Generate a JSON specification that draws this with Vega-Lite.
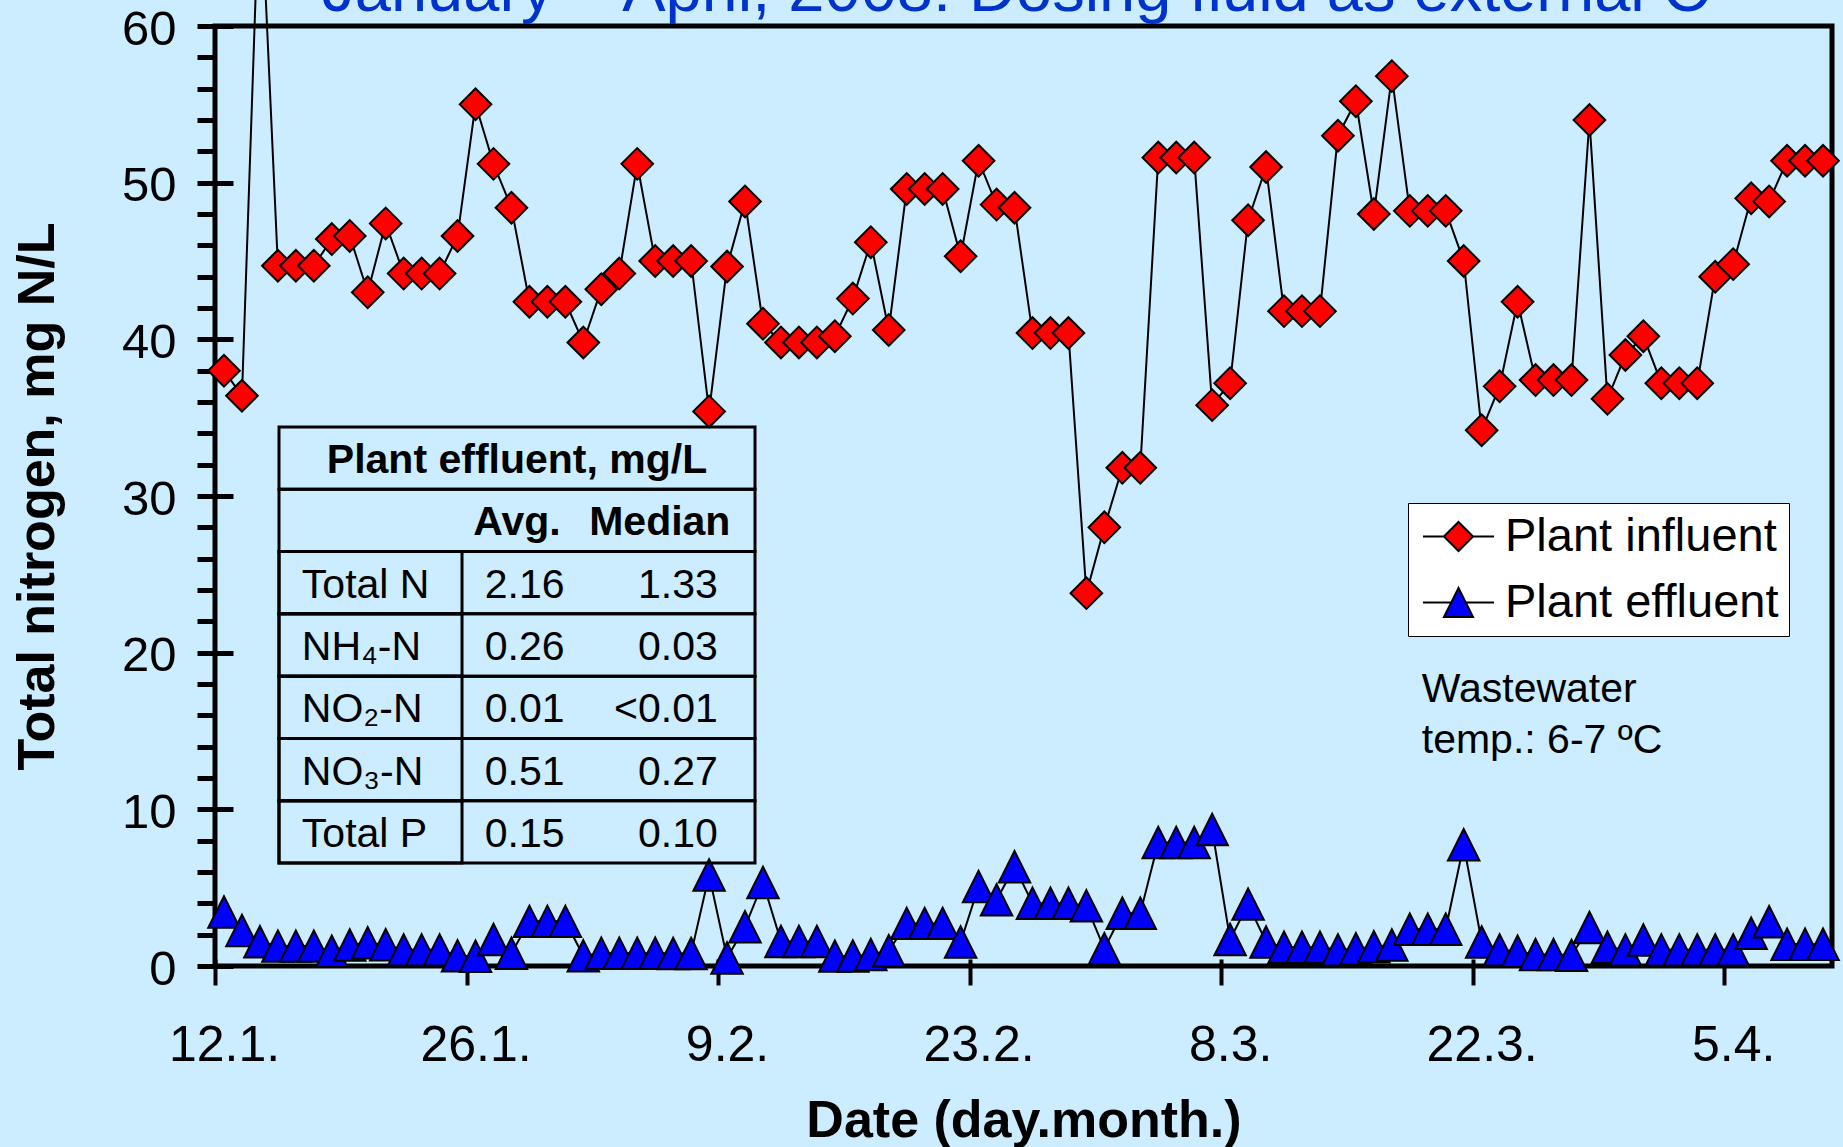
{
  "$schema": "https://vega.github.io/schema/vega-lite/v6.json",
  "width": 1617,
  "height": 940,
  "autosize": {"type": "none"},
  "padding": {"left": 215, "top": 26, "right": 11, "bottom": 181},
  "background": "#CCECFF",
  "datasets": {
    "tn": [
      {"date":"2008-01-12","inf":38.0,"eff":3.45},
      {"date":"2008-01-13","inf":36.4,"eff":2.27},
      {"date":"2008-01-14","inf":70.0,"eff":1.55},
      {"date":"2008-01-15","inf":44.7,"eff":1.27},
      {"date":"2008-01-16","inf":44.7,"eff":1.27},
      {"date":"2008-01-17","inf":44.7,"eff":1.27},
      {"date":"2008-01-18","inf":46.4,"eff":0.94},
      {"date":"2008-01-19","inf":46.6,"eff":1.34},
      {"date":"2008-01-20","inf":43.0,"eff":1.48},
      {"date":"2008-01-21","inf":47.4,"eff":1.36},
      {"date":"2008-01-22","inf":44.2,"eff":1.03},
      {"date":"2008-01-23","inf":44.2,"eff":1.03},
      {"date":"2008-01-24","inf":44.2,"eff":1.03},
      {"date":"2008-01-25","inf":46.6,"eff":0.65},
      {"date":"2008-01-26","inf":55.0,"eff":0.62},
      {"date":"2008-01-27","inf":51.2,"eff":1.69},
      {"date":"2008-01-28","inf":48.4,"eff":0.81},
      {"date":"2008-01-29","inf":42.4,"eff":2.85},
      {"date":"2008-01-30","inf":42.4,"eff":2.85},
      {"date":"2008-01-31","inf":42.4,"eff":2.85},
      {"date":"2008-02-01","inf":39.8,"eff":0.65},
      {"date":"2008-02-02","inf":43.2,"eff":0.82},
      {"date":"2008-02-03","inf":44.2,"eff":0.82},
      {"date":"2008-02-04","inf":51.2,"eff":0.82},
      {"date":"2008-02-05","inf":45.0,"eff":0.82},
      {"date":"2008-02-06","inf":45.0,"eff":0.8},
      {"date":"2008-02-07","inf":45.0,"eff":0.8},
      {"date":"2008-02-08","inf":35.4,"eff":5.81},
      {"date":"2008-02-09","inf":44.65,"eff":0.51},
      {"date":"2008-02-10","inf":48.8,"eff":2.5},
      {"date":"2008-02-11","inf":41.0,"eff":5.33},
      {"date":"2008-02-12","inf":39.8,"eff":1.57},
      {"date":"2008-02-13","inf":39.8,"eff":1.57},
      {"date":"2008-02-14","inf":39.8,"eff":1.57},
      {"date":"2008-02-15","inf":40.2,"eff":0.63},
      {"date":"2008-02-16","inf":42.6,"eff":0.64},
      {"date":"2008-02-17","inf":46.2,"eff":0.74},
      {"date":"2008-02-18","inf":40.6,"eff":0.97},
      {"date":"2008-02-19","inf":49.6,"eff":2.72},
      {"date":"2008-02-20","inf":49.6,"eff":2.72},
      {"date":"2008-02-21","inf":49.6,"eff":2.72},
      {"date":"2008-02-22","inf":45.3,"eff":1.53},
      {"date":"2008-02-23","inf":51.4,"eff":5.07},
      {"date":"2008-02-24","inf":48.6,"eff":4.22},
      {"date":"2008-02-25","inf":48.4,"eff":6.34},
      {"date":"2008-02-26","inf":40.4,"eff":4.01},
      {"date":"2008-02-27","inf":40.4,"eff":4.01},
      {"date":"2008-02-28","inf":40.4,"eff":4.01},
      {"date":"2008-02-29","inf":23.8,"eff":3.84},
      {"date":"2008-03-01","inf":28.0,"eff":1.1},
      {"date":"2008-03-02","inf":31.8,"eff":3.37},
      {"date":"2008-03-03","inf":31.8,"eff":3.37},
      {"date":"2008-03-04","inf":51.6,"eff":7.88},
      {"date":"2008-03-05","inf":51.6,"eff":7.88},
      {"date":"2008-03-06","inf":51.6,"eff":7.88},
      {"date":"2008-03-07","inf":35.8,"eff":8.71},
      {"date":"2008-03-08","inf":37.2,"eff":1.69},
      {"date":"2008-03-09","inf":47.6,"eff":3.95},
      {"date":"2008-03-10","inf":51.0,"eff":1.53},
      {"date":"2008-03-11","inf":41.8,"eff":1.2},
      {"date":"2008-03-12","inf":41.8,"eff":1.2},
      {"date":"2008-03-13","inf":41.8,"eff":1.2},
      {"date":"2008-03-14","inf":53.0,"eff":1.03},
      {"date":"2008-03-15","inf":55.2,"eff":1.1},
      {"date":"2008-03-16","inf":48.0,"eff":1.23},
      {"date":"2008-03-17","inf":56.8,"eff":1.34},
      {"date":"2008-03-18","inf":48.2,"eff":2.35},
      {"date":"2008-03-19","inf":48.2,"eff":2.35},
      {"date":"2008-03-20","inf":48.2,"eff":2.35},
      {"date":"2008-03-21","inf":45.0,"eff":7.74},
      {"date":"2008-03-22","inf":34.2,"eff":1.53},
      {"date":"2008-03-23","inf":37.0,"eff":1.03},
      {"date":"2008-03-24","inf":42.4,"eff":0.94},
      {"date":"2008-03-25","inf":37.4,"eff":0.73},
      {"date":"2008-03-26","inf":37.4,"eff":0.73},
      {"date":"2008-03-27","inf":37.4,"eff":0.68},
      {"date":"2008-03-28","inf":54.0,"eff":2.46},
      {"date":"2008-03-29","inf":36.2,"eff":1.2},
      {"date":"2008-03-30","inf":39.0,"eff":1.03},
      {"date":"2008-03-31","inf":40.2,"eff":1.66},
      {"date":"2008-04-01","inf":37.2,"eff":1.03},
      {"date":"2008-04-02","inf":37.2,"eff":1.03},
      {"date":"2008-04-03","inf":37.2,"eff":1.03},
      {"date":"2008-04-04","inf":44.0,"eff":1.03},
      {"date":"2008-04-05","inf":44.8,"eff":1.03},
      {"date":"2008-04-06","inf":49.0,"eff":2.09},
      {"date":"2008-04-07","inf":48.8,"eff":2.83},
      {"date":"2008-04-08","inf":51.4,"eff":1.39},
      {"date":"2008-04-09","inf":51.4,"eff":1.39},
      {"date":"2008-04-10","inf":51.4,"eff":1.39}
    ],
    "table": [
      {"kind":"title","row":"r0","label":"Plant effluent, mg/L","avg":"","median":""},
      {"kind":"head","row":"r1","label":"","avg":"Avg.","median":"Median"},
      {"kind":"body","row":"r2","label":"Total N","avg":"2.16","median":"1.33"},
      {"kind":"body","row":"r3","label":"NH₄-N","avg":"0.26","median":"0.03"},
      {"kind":"body","row":"r4","label":"NO₂-N","avg":"0.01","median":"<0.01"},
      {"kind":"body","row":"r5","label":"NO₃-N","avg":"0.51","median":"0.27"},
      {"kind":"body","row":"r6","label":"Total P","avg":"0.15","median":"0.10"}
    ]
  },
  "layer": [
    {
      "data": {"name": "tn"},
      "layer": [
        {
          "mark": {"type": "line", "color": "black", "strokeWidth": 2},
          "encoding": {
            "x": {
              "field": "date", "type": "temporal", "timeUnit": "utcyearmonthdate", "bandPosition": 0.5,
              "scale": {"type": "utc", "domain": [{"year":2008,"month":1,"date":12,"utc":true},{"year":2008,"month":4,"date":11,"utc":true}], "nice": false},
              "axis": {
                "orient": "bottom",
                "values": [{"year":2008,"month":1,"date":12,"utc":true},{"year":2008,"month":1,"date":26,"utc":true},{"year":2008,"month":2,"date":9,"utc":true},{"year":2008,"month":2,"date":23,"utc":true},{"year":2008,"month":3,"date":8,"utc":true},{"year":2008,"month":3,"date":22,"utc":true},{"year":2008,"month":4,"date":5,"utc":true}],
                "format": "%-d.%-m.",
                "labelFontSize": 50, "labelPadding": 35, "labelOffset": 9,
                "tickSize": 19, "tickWidth": 4,
                "title": "Date (day.month.)", "titleFontSize": 52, "titleFontWeight": "bold", "titlePadding": 25
              }
            },
            "y": {
              "field": "inf", "type": "quantitative",
              "scale": {"domain": [0, 60], "nice": false},
              "axis": {
                "orient": "left",
                "values": [0, 10, 20, 30, 40, 50, 60],
                "labelFontSize": 49, "labelPadding": 21, "labelOffset": 3,
                "tickSize": 18, "tickWidth": 5,
                "title": "Total nitrogen, mg N/L", "titleFontSize": 52, "titleFontWeight": "bold", "titlePadding": 57
              }
            }
          }
        },
        {
          "mark": {"type": "line", "color": "black", "strokeWidth": 2},
          "encoding": {
            "x": {
              "field": "date", "type": "temporal", "timeUnit": "utcyearmonthdate", "bandPosition": 0.5,
              "axis": {
                "orient": "bottom",
                "values": [{"year":2008,"month":1,"date":12,"utc":true},{"year":2008,"month":1,"date":26,"utc":true},{"year":2008,"month":2,"date":9,"utc":true},{"year":2008,"month":2,"date":23,"utc":true},{"year":2008,"month":3,"date":8,"utc":true},{"year":2008,"month":3,"date":22,"utc":true},{"year":2008,"month":4,"date":5,"utc":true}],
                "labels": false, "tickSize": -7, "tickWidth": 4, "title": null
              }
            },
            "y": {
              "field": "eff", "type": "quantitative",
              "axis": {
                "orient": "left",
                "values": [0, 10, 20, 30, 40, 50, 60],
                "labels": false, "tickSize": -18, "tickWidth": 5, "title": null
              }
            }
          }
        },
        {
          "mark": {"type": "point", "shape": "diamond", "size": 1000, "filled": true, "stroke": "black", "strokeWidth": 2, "opacity": 1},
          "encoding": {
            "x": {"field": "date", "type": "temporal", "timeUnit": "utcyearmonthdate", "bandPosition": 0.5, "axis": null},
            "y": {
              "field": "inf", "type": "quantitative",
              "axis": {
                "orient": "left",
                "values": [2,4,6,8,12,14,16,18,22,24,26,28,32,34,36,38,42,44,46,48,52,54,56,58],
                "labels": false, "tickSize": 18, "tickWidth": 5, "title": null
              }
            },
            "color": {
              "datum": "Plant influent", "type": "nominal",
              "scale": {"domain": ["Plant influent", "Plant effluent"], "range": ["#FF0000", "#0000FF"]},
              "legend": {
                "orient": "none", "legendX": 1193, "legendY": 477,
                "title": null,
                "fillColor": "white", "strokeColor": "black",
                "padding": 10,
                "symbolSize": 900, "symbolStrokeColor": "black", "symbolStrokeWidth": 2,
                "symbolType": "M-2.37,0H2.37", "symbolOffset": 17,
                "labelFont": "Liberation Sans", "labelFontSize": 47, "labelColor": "black",
                "labelOffset": 23, "labelLimit": 500, "rowPadding": 18,
                "encoding": {
                  "symbols": {
                    "shape": {"value": {"expr": "datum.value === 'Plant influent' ? 'M-2.37,0H-0.97M0.97,0H2.37M-0.97,0L0,-0.97L0.97,0L0,0.97Z' : 'M-2.37,0H-0.49M0.49,0H2.37M0,-0.97L0.97,0.97L-0.97,0.97Z'"}}
                  }
                }
              }
            }
          }
        },
        {
          "mark": {"type": "point", "shape": "M0,-1L1,1L-1,1Z", "size": 990, "filled": true, "stroke": "black", "strokeWidth": 2, "opacity": 1},
          "encoding": {
            "x": {"field": "date", "type": "temporal", "timeUnit": "utcyearmonthdate", "bandPosition": 0.5, "axis": null},
            "y": {"field": "eff", "type": "quantitative", "axis": null},
            "color": {"datum": "Plant effluent", "type": "nominal"}
          }
        },
        {
          "data": {"values": [{"note": "Wastewater\ntemp.: 6-7 ºC"}]},
          "mark": {"type": "text", "font": "Liberation Sans", "fontSize": 41, "align": "left", "baseline": "alphabetic", "lineBreak": "\n", "lineHeight": 51, "color": "black"},
          "encoding": {
            "x": {"datum": {"year":2008,"month":3,"date":19,"hours":4,"utc":true}, "type": "temporal", "axis": null},
            "y": {"datum": 16.85, "type": "quantitative", "axis": null},
            "text": {"field": "note"}
          }
        },
        {
          "data": {"values": [{"t": "January – April, 2008: Dosing fluid as external C"}]},
          "mark": {"type": "text", "font": "Liberation Sans", "fontSize": 65, "align": "center", "baseline": "alphabetic", "color": "#0033CC"},
          "encoding": {
            "x": {"datum": {"year":2008,"month":2,"date":25,"hours":14,"utc":true}, "type": "temporal", "axis": null},
            "y": {"datum": 60.96, "type": "quantitative", "axis": null},
            "text": {"field": "t"}
          }
        }
      ],
      "resolve": {"axis": {"x": "independent", "y": "independent"}}
    },
    {
      "data": {"name": "table"},
      "layer": [
        {
          "mark": {"type": "rect", "fill": "transparent", "stroke": "black", "strokeWidth": 3},
          "encoding": {
            "x": {"datum": 0, "type": "quantitative", "scale": {"domain": [0, 1], "range": [64, 540]}, "axis": null},
            "x2": {"datum": 1},
            "y": {"field": "row", "type": "nominal", "scale": {"type": "band", "domain": ["r0","r1","r2","r3","r4","r5","r6"], "range": [401, 837], "paddingInner": 0, "paddingOuter": 0}, "axis": null}
          }
        },
        {
          "transform": [{"filter": "datum.kind === 'body'"}],
          "mark": {"type": "rect", "fill": "transparent", "stroke": "black", "strokeWidth": 3},
          "encoding": {
            "x": {"datum": 0, "type": "quantitative", "axis": null},
            "x2": {"datum": 0.3845},
            "y": {"field": "row", "type": "nominal", "axis": null}
          }
        },
        {
          "transform": [{"filter": "datum.kind === 'title'"}],
          "mark": {"type": "text", "font": "Liberation Sans", "fontSize": 41, "fontWeight": "bold", "align": "center", "baseline": "middle", "dy": 3, "color": "black"},
          "encoding": {
            "x": {"datum": 0.5, "type": "quantitative", "axis": null},
            "y": {"field": "row", "type": "nominal", "axis": null},
            "text": {"field": "label"}
          }
        },
        {
          "transform": [{"filter": "datum.kind === 'head'"}],
          "mark": {"type": "text", "font": "Liberation Sans", "fontSize": 41, "fontWeight": "bold", "align": "center", "baseline": "middle", "dy": 3, "color": "black"},
          "encoding": {
            "x": {"datum": 0.5, "type": "quantitative", "axis": null},
            "y": {"field": "row", "type": "nominal", "axis": null},
            "text": {"field": "avg"}
          }
        },
        {
          "transform": [{"filter": "datum.kind === 'head'"}],
          "mark": {"type": "text", "font": "Liberation Sans", "fontSize": 41, "fontWeight": "bold", "align": "center", "baseline": "middle", "dy": 3, "color": "black"},
          "encoding": {
            "x": {"datum": 0.8, "type": "quantitative", "axis": null},
            "y": {"field": "row", "type": "nominal", "axis": null},
            "text": {"field": "median"}
          }
        },
        {
          "transform": [{"filter": "datum.kind === 'body'"}],
          "mark": {"type": "text", "font": "Liberation Sans", "fontSize": 41, "align": "left", "baseline": "middle", "dy": 3, "color": "black"},
          "encoding": {
            "x": {"datum": 0.048, "type": "quantitative", "axis": null},
            "y": {"field": "row", "type": "nominal", "axis": null},
            "text": {"field": "label"}
          }
        },
        {
          "transform": [{"filter": "datum.kind === 'body'"}],
          "mark": {"type": "text", "font": "Liberation Sans", "fontSize": 41, "align": "center", "baseline": "middle", "dy": 3, "color": "black"},
          "encoding": {
            "x": {"datum": 0.516, "type": "quantitative", "axis": null},
            "y": {"field": "row", "type": "nominal", "axis": null},
            "text": {"field": "avg"}
          }
        },
        {
          "transform": [{"filter": "datum.kind === 'body'"}],
          "mark": {"type": "text", "font": "Liberation Sans", "fontSize": 41, "align": "right", "baseline": "middle", "dy": 3, "color": "black"},
          "encoding": {
            "x": {"datum": 0.922, "type": "quantitative", "axis": null},
            "y": {"field": "row", "type": "nominal", "axis": null},
            "text": {"field": "median"}
          }
        }
      ]
    }
  ],
  "resolve": {"scale": {"x": "independent", "y": "independent"}},
  "config": {
    "view": {"stroke": "black", "strokeWidth": 5, "fill": "#CCECFF"},
    "font": "Liberation Sans",
    "axis": {
      "labelFont": "Liberation Sans", "titleFont": "Liberation Sans",
      "labelColor": "black", "titleColor": "black", "tickColor": "black",
      "grid": false, "domain": false,
      "labelFlush": false, "labelOverlap": false, "labelBound": false
    }
  }
}
